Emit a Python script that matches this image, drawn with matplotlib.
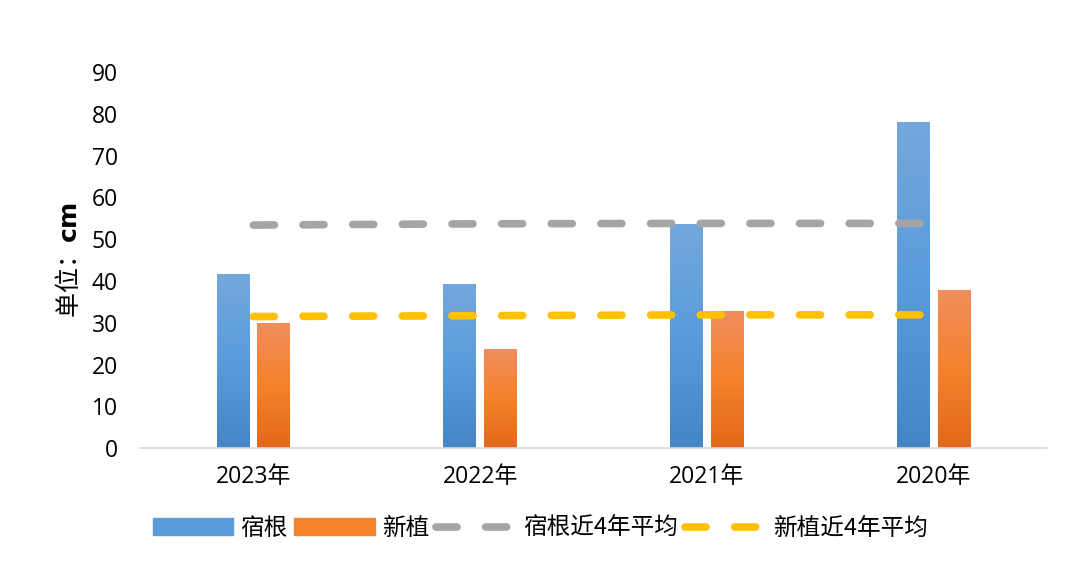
import matplotlib
matplotlib.use("Agg")
import matplotlib.pyplot as plt
import numpy as np
from matplotlib.patches import Patch
from matplotlib.lines import Line2D
from matplotlib.colors import LinearSegmentedColormap

plt.rcParams['font.family'] = ['Open Sans', 'Noto Sans CJK SC', 'DejaVu Sans']

years = ['2023年', '2022年', '2021年', '2020年']
perennial = [41.6, 39.3, 53.6, 78.0]      # 宿根
new_plant = [29.9, 23.7, 32.8, 37.8]      # 新植
perennial_avg = [53.4, 53.7, 53.8, 53.8]  # 宿根近4年平均
new_avg = [31.5, 31.7, 31.9, 31.9]        # 新植近4年平均

blue_cmap = LinearSegmentedColormap.from_list('b', ['#4485C5', '#5A9CDB', '#74A8DC'])
orange_cmap = LinearSegmentedColormap.from_list('o', ['#E2681A', '#F5822C', '#F08E5C'])

fig = plt.figure(figsize=(10.8, 5.73), dpi=100)
ax = fig.add_axes([0.1296, 0.218, 0.84, 0.656])

x = np.arange(len(years))
w = 0.145
off = 0.09
grad = np.linspace(0, 1, 256).reshape(-1, 1)

def grad_bars(xs, vals, cmap):
    bars = ax.bar(xs, vals, w, color='none', edgecolor='none', zorder=2)
    for b in bars:
        x0, y0 = b.get_x(), b.get_y()
        im = ax.imshow(grad, cmap=cmap, origin='lower', aspect='auto',
                       extent=[x0, x0 + b.get_width(), y0, y0 + b.get_height()], zorder=2)
        im.set_clip_path(b)

grad_bars(x - off, perennial, blue_cmap)
grad_bars(x + off, new_plant, orange_cmap)

ls = dict(lw=5.5, dash_capstyle='round', zorder=3)
ax.plot(x, perennial_avg, color='#A5A5A5', dashes=(2.75, 3.75), **ls)
ax.plot(x, new_avg, color='#FFC000', dashes=(2.75, 3.75), **ls)

ax.set_xlim(-0.5, 3.5)
ax.set_ylim(0, 90)
ax.set_yticks(np.arange(0, 91, 10))
ax.set_xticks(x)
ax.set_xticklabels(years)
for s in ['top', 'right', 'left']:
    ax.spines[s].set_visible(False)
ax.spines['bottom'].set_color('#D9D9D9')
ax.spines['bottom'].set_linewidth(1.2)
ax.tick_params(axis='both', length=0, labelsize=16.5, colors='black')
ax.tick_params(axis='y', pad=16)
ax.tick_params(axis='x', pad=12)

ax.set_ylabel('单位：$\\mathbf{cm}$', fontsize=18, family=['Noto Sans CJK SC', 'DejaVu Sans'], labelpad=6)

handles = [
    Patch(facecolor='#5A9CDB', edgecolor='#5A9CDB'),
    Patch(facecolor='#F5822C', edgecolor='#F5822C'),
    Line2D([], [], color='#A5A5A5', lw=5.5, dashes=(2.75, 3.75), dash_capstyle='round'),
    Line2D([], [], color='#FFC000', lw=5.5, dashes=(2.75, 3.75), dash_capstyle='round'),
]
labels = ['宿根', '新植', '宿根近4年平均', '新植近4年平均']
fig.legend(handles, labels, loc='center', bbox_to_anchor=(0.5, 0.078), ncol=4,
           frameon=False, prop={'family': ['Noto Sans CJK SC', 'DejaVu Sans'], 'size': 17},
           handlelength=3.4, handletextpad=0.3, columnspacing=0.3)

fig.savefig('out.png', dpi=100)
